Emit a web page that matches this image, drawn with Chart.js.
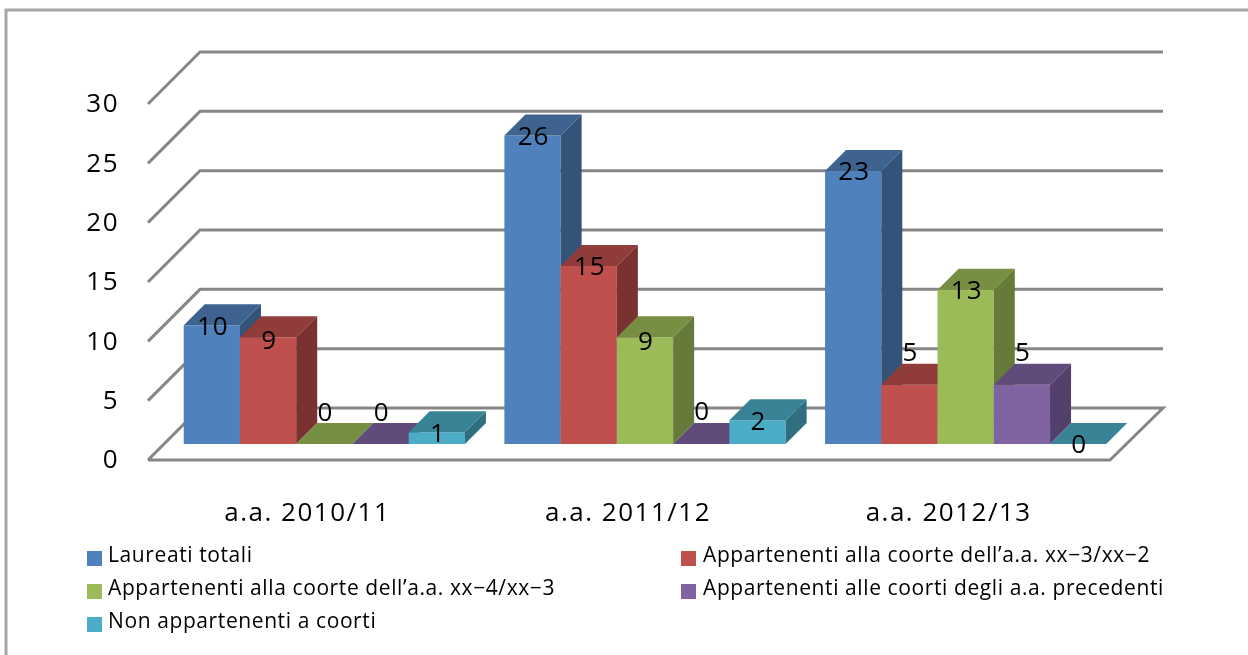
<!DOCTYPE html>
<html>
<head>
<meta charset="utf-8">
<title>Laureati</title>
<script src="https://cdn.jsdelivr.net/npm/chart.js@4"></script>
<style>
  html, body { margin: 0; padding: 0; background: #fff; }
  #wrap { width: 1248px; height: 655px; }
</style>
</head>
<body>
<div id="wrap"><canvas id="grafico" width="1248" height="655"></canvas></div>
<script>
// Data
const categories = ["a.a. 2010/11", "a.a. 2011/12", "a.a. 2012/13"];
const seriesNames = [
  "Laureati totali",
  "Appartenenti alla coorte dell’a.a. xx−3/xx−2",
  "Appartenenti alla coorte dell’a.a. xx−4/xx−3",
  "Appartenenti alle coorti degli a.a. precedenti",
  "Non appartenenti a coorti"
];
const laureatiTotali = [10, 26, 23];
const coorteXx3 = [9, 15, 5];
const coorteXx4 = [0, 9, 13];
const coortiPrecedenti = [0, 0, 5];
const nonAppartenenti = [1, 2, 0];
const yTicks = [0, 5, 10, 15, 20, 25, 30];

// Warna: depan, atas, samping
const warna = [
  { front: "#4f81bd", top: "#3d638e", side: "#335379" },
  { front: "#c0504d", top: "#8f3c3a", side: "#7a3230" },
  { front: "#9bbb59", top: "#778f43", side: "#667a3a" },
  { front: "#8064a2", top: "#614b7b", side: "#523f6a" },
  { front: "#4bacc6", top: "#388496", side: "#2f6f80" }
];

const DEPTH = 21;         // kedalaman batang 3D
const LINE = "#868686";
const FONT = '"Open Sans", sans-serif';

// Geser label nilai dari puncak batang (dataset:kategori), bawaan +2
const geserLabel = {
  "1:0": 4, "2:1": 5,
  "2:0": -30, "3:0": -30, "3:1": -31, "1:2": -31, "3:2": -31
};

// Sisi atas dan samping tiap batang
function gambarSisi(c, meta, w) {
  meta.data.forEach(bar => {
    const l = bar.x - bar.width / 2, r = bar.x + bar.width / 2;
    const t = bar.y, b = bar.base;
    c.fillStyle = w.top;
    c.beginPath();
    c.moveTo(l, t);
    c.lineTo(l + DEPTH, t - DEPTH);
    c.lineTo(r + DEPTH, t - DEPTH);
    c.lineTo(r, t);
    c.closePath();
    c.fill();
    if (b - t > 0) {
      c.fillStyle = w.side;
      c.beginPath();
      c.moveTo(r, t);
      c.lineTo(r + DEPTH, t - DEPTH);
      c.lineTo(r + DEPTH, b - DEPTH);
      c.lineTo(r, b);
      c.closePath();
      c.fill();
    }
  });
}

const lantaiPlugin = {
  id: "lantai",
  beforeDraw(chart) {
    chart.ctx.letterSpacing = "1.5px";
  },
  // Kotak, dinding dan lantai
  beforeDatasetsDraw(chart) {
    const c = chart.ctx, y = chart.scales.y;
    c.save();
    c.strokeStyle = "#a6a6a6";
    c.lineWidth = 3;
    c.beginPath();
    c.moveTo(6, 700);
    c.lineTo(6, 10);
    c.lineTo(1300, 10);
    c.stroke();

    c.strokeStyle = LINE;
    yTicks.forEach(v => {
      const p = y.getPixelForValue(v);
      c.beginPath();
      c.moveTo(148, p + 16);
      c.lineTo(200, p - 36);
      c.lineTo(1163, p - 36);
      if (v === 0) {
        c.lineTo(1110, p + 16);
        c.lineTo(148, p + 16);
      }
      c.stroke();
    });
    c.restore();
  },
  // Urutan bawaan dari kanan ke kiri; di sini digambar dari kiri ke kanan
  beforeDatasetDraw() {
    return false;
  },
  afterDatasetsDraw(chart) {
    const c = chart.ctx;
    chart.data.datasets.forEach((ds, i) => {
      const meta = chart.getDatasetMeta(i);
      meta.controller.draw();
      gambarSisi(c, meta, warna[i]);
    });

    c.save();
    // label nilai
    c.font = "26px " + FONT;
    c.letterSpacing = "1px";
    c.fillStyle = "#000";
    c.textAlign = "center";
    c.textBaseline = "middle";
    chart.data.datasets.forEach((ds, i) => {
      chart.getDatasetMeta(i).data.forEach((bar, j) => {
        const k = i + ":" + j;
        const dy = k in geserLabel ? geserLabel[k] : 2;
        c.fillText(ds.data[j], bar.x + 1, bar.y + dy);
      });
    });
    // legenda 2 kolom
    c.font = "21px " + FONT;
    c.letterSpacing = "0.6px";
    c.textAlign = "left";
    chart.data.datasets.forEach((ds, i) => {
      const x = i % 2 ? 681 : 87;
      const y = 556 + Math.floor(i / 2) * 33;
      c.fillStyle = ds.backgroundColor;
      c.fillRect(x, y - 5, 15, 15);
      c.fillStyle = "#000";
      c.fillText(ds.label, x + (i % 2 ? 22 : 21), y);
    });
    c.restore();
  }
};

const allValues = [laureatiTotali, coorteXx3, coorteXx4, coortiPrecedenti, nonAppartenenti];

new Chart(document.getElementById("grafico").getContext("2d"), {
  type: "bar",
  data: {
    labels: categories,
    datasets: allValues.map((vals, i) => ({
      label: seriesNames[i],
      data: vals,
      backgroundColor: warna[i].front,
      barPercentage: 1,
      categoryPercentage: 0.877
    }))
  },
  plugins: [lantaiPlugin],
  options: {
    responsive: false,
    animation: false,
    layout: { padding: { top: 88, right: 122, left: 0, bottom: 0 } },
    plugins: { legend: { display: false }, tooltip: { enabled: false } },
    scales: {
      x: {
        grid: { display: false },
        border: { display: false },
        afterFit(s) { s.height = 211; },
        ticks: { color: "#000", font: { family: FONT, size: 26 }, padding: 46, labelOffset: -17, maxRotation: 0 }
      },
      y: {
        min: 0,
        max: 30,
        grid: { display: false },
        border: { display: false },
        afterFit(s) { s.width = 164; },
        afterBuildTicks(s) { s.ticks = yTicks.map(v => ({ value: v })); },
        ticks: { color: "#000", font: { family: FONT, size: 26 }, padding: 37, labelOffset: 17 }
      }
    }
  }
});
</script>
</body>
</html>
